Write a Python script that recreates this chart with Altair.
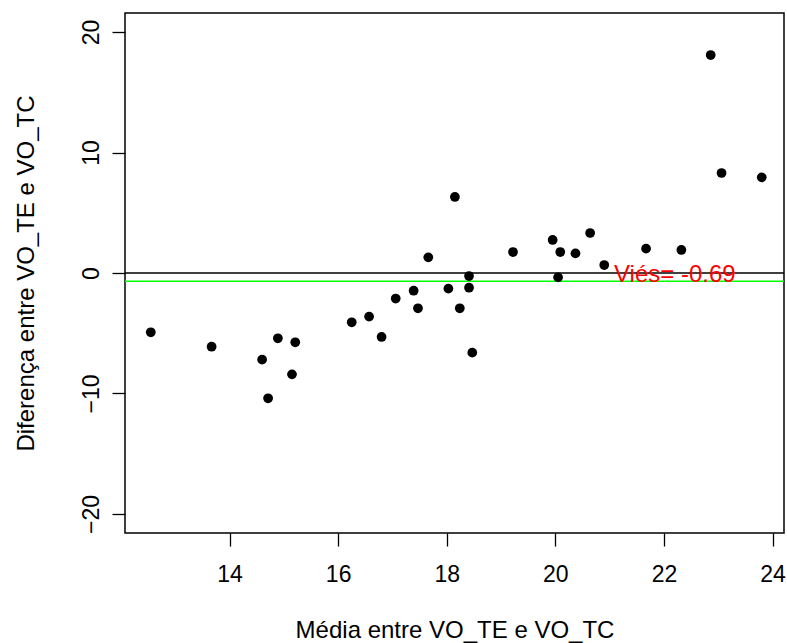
import altair as alt
import pandas as pd

# Bland-Altman style data: mean of the two methods vs. their difference
media = [12.55, 13.67, 14.60, 14.71, 14.89, 15.15, 15.21, 16.25, 16.57, 16.80,
         17.06, 17.39, 17.47, 17.66, 18.03, 18.15, 18.24, 18.41, 18.41, 18.47,
         19.22, 19.95, 20.05, 20.09, 20.37, 20.64, 20.90, 21.67, 22.32, 22.86,
         23.06, 23.80]
diferenca = [-4.92, -6.12, -7.19, -10.40, -5.42, -8.41, -5.75, -4.09, -3.62, -5.31,
             -2.12, -1.47, -2.93, 1.30, -1.30, 6.31, -2.93, -0.25, -1.22, -6.61,
             1.74, 2.74, -0.36, 1.74, 1.63, 3.32, 0.66, 2.02, 1.91, 18.09,
             8.30, 7.94]
vies = -0.69
x_ticks = [14, 16, 18, 20, 22, 24]
y_ticks = [-20, -10, 0, 10, 20]

FONT = "Liberation Sans"

df = pd.DataFrame({"media": media, "diferenca": diferenca})
ref = pd.DataFrame({"y": [0.0]})
bias_df = pd.DataFrame({"y": [vies]})
label_df = pd.DataFrame({"x": [22.2], "y": [-0.2], "txt": [f"Viés= {vies}"]})

xscale = alt.Scale(domain=[12.075, 24.21], nice=False, zero=False)
yscale = alt.Scale(domain=[-21.58, 21.58], nice=False, zero=False)

xaxis = alt.Axis(
    title="Média entre VO_TE e VO_TC", values=x_ticks, grid=False, domain=False,
    tickColor="black", tickSize=13, tickWidth=1.3,
    labelFont=FONT, labelFontSize=23, labelColor="black", labelPadding=17,
    titleFont=FONT, titleFontSize=24, titleFontWeight="normal", titleColor="black",
    titleY=104, titleBaseline="alphabetic",
)
yaxis = alt.Axis(
    title="Diferença entre VO_TE e VO_TC", values=y_ticks, grid=False, domain=False,
    tickColor="black", tickSize=13, tickWidth=1.3,
    labelFont=FONT, labelFontSize=23, labelColor="black", labelPadding=9,
    labelAngle=270, labelAlign="center", labelBaseline="bottom",
    titleFont=FONT, titleFontSize=24, titleFontWeight="normal", titleColor="black",
    titleAngle=270, titleX=-92, titleBaseline="alphabetic",
)

points = alt.Chart(df).mark_point(filled=True, shape="circle", size=95, color="black", opacity=1).encode(
    x=alt.X("media:Q", scale=xscale, axis=xaxis),
    y=alt.Y("diferenca:Q", scale=yscale, axis=yaxis),
)

zero_line = alt.Chart(ref).mark_rule(color="black", strokeWidth=1.4).encode(
    y=alt.Y("y:Q", scale=yscale)
)

bias_line = alt.Chart(bias_df).mark_rule(color="#00ff00", strokeWidth=1.4).encode(
    y=alt.Y("y:Q", scale=yscale)
)

label = alt.Chart(label_df).mark_text(
    color="#ff0000", font=FONT, fontSize=24, align="center", baseline="middle"
).encode(
    x=alt.X("x:Q", scale=xscale),
    y=alt.Y("y:Q", scale=yscale),
    text="txt:N",
)

chart = alt.layer(zero_line, bias_line, points, label).properties(
    width=659, height=520,
    autosize=alt.AutoSizeParams(type="none"),
    padding={"left": 125, "top": 13, "right": 3, "bottom": 110},
    background="white",
).configure_view(stroke="black", strokeWidth=1.5)

chart.save("out.html", embed_options={"renderer": "svg", "actions": False})
